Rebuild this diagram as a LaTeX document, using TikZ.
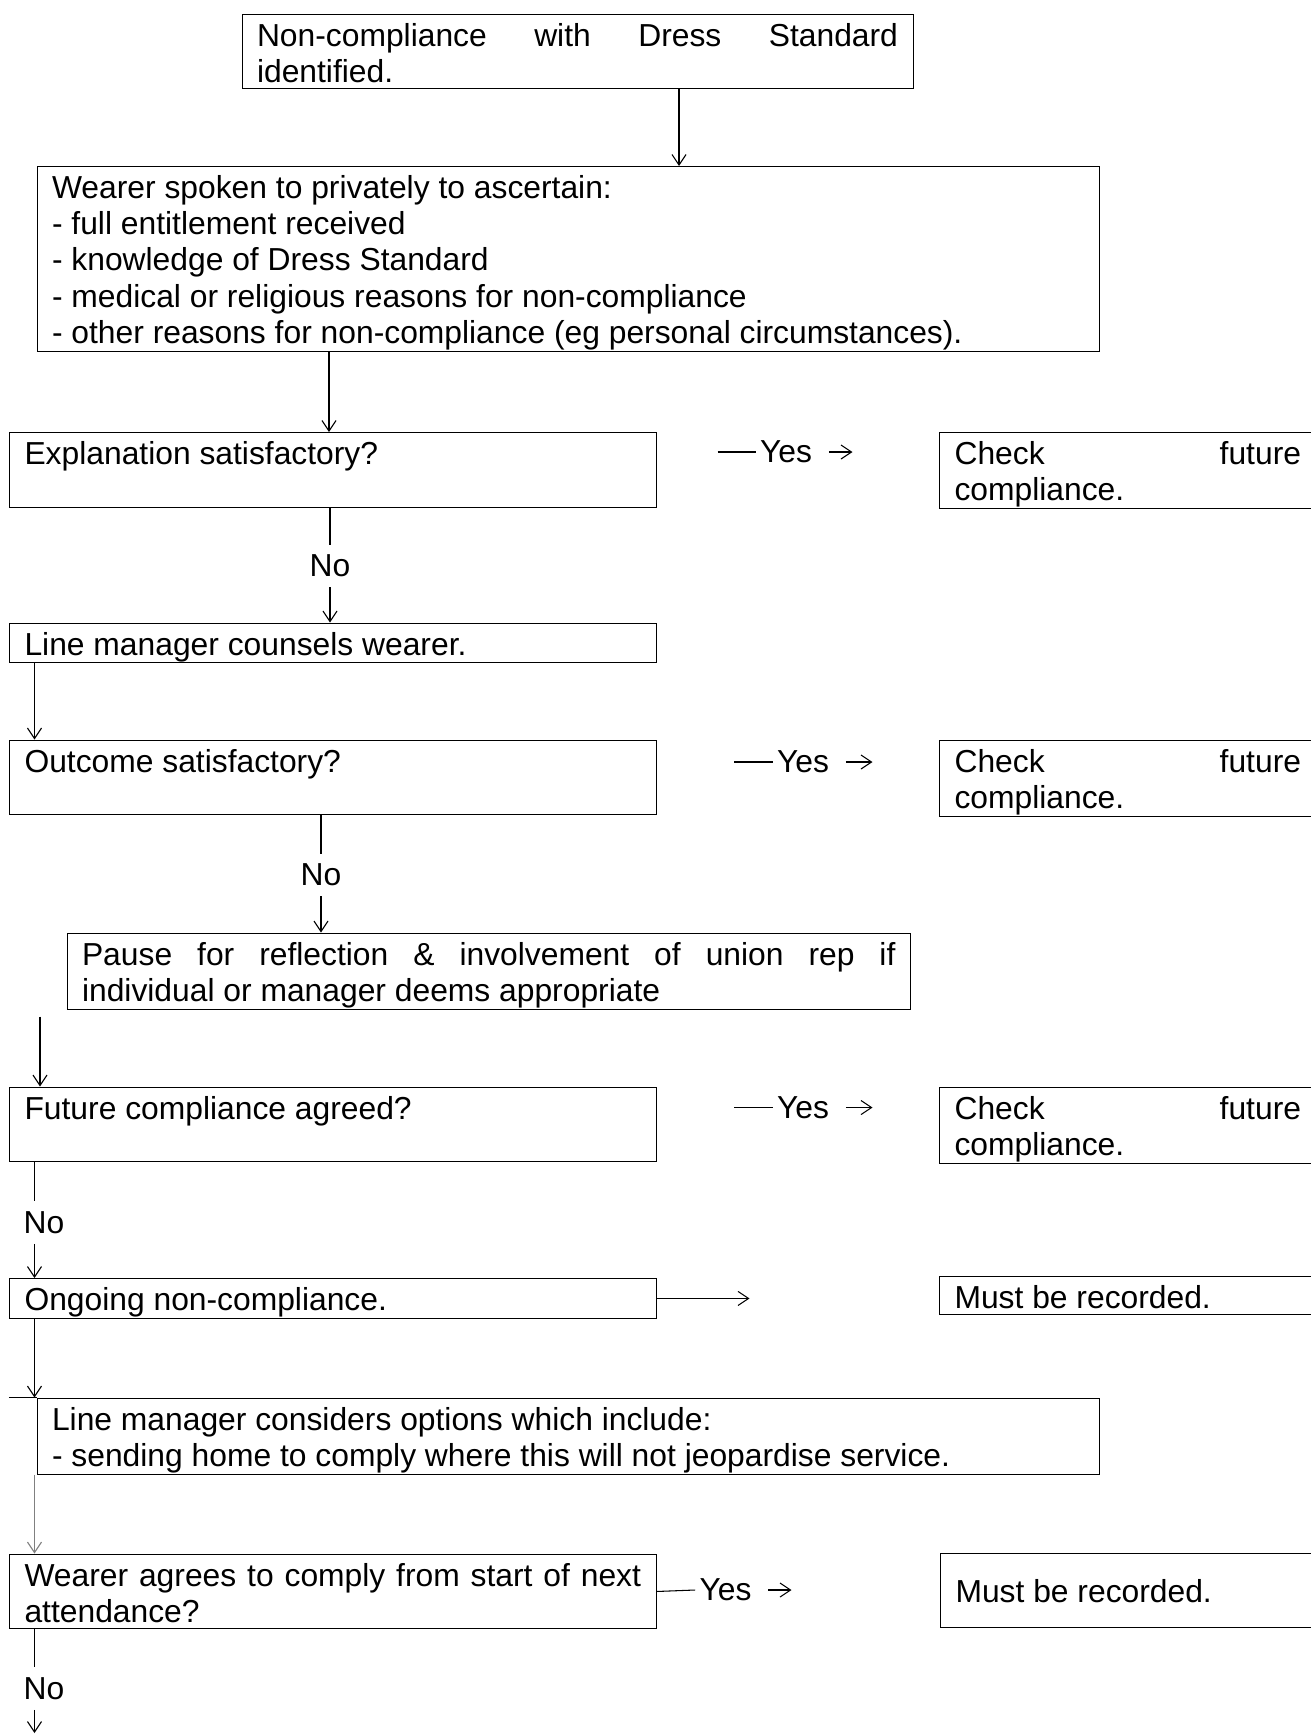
\documentclass[tikz,border=0pt]{standalone}
\usepackage{fontspec}
\setmainfont{Liberation Sans}
\usetikzlibrary{arrows.meta}
\hyphenpenalty=10000
\exhyphenpenalty=10000
\tolerance=10000
\hbadness=10000

\newcommand{\topstrut}{\rule{0pt}{0.85\baselineskip}}
\newcommand{\botstrut}{\rule[-0.15\baselineskip]{0pt}{0pt}}

\tikzset{
  stepbox/.style={draw, line width=0.6pt, anchor=north west, inner xsep=0.3cm,
    inner ysep=0.025cm, align=justify,
    execute at begin node=\topstrut, execute at end node=\botstrut},
  flowlabel/.style={inner xsep=0.08cm, inner ysep=0.2cm},
  flowline/.style={line width=0.6pt},
  flowarrow/.style={line width=0.6pt, -{Straight Barb[length=6pt,width=8pt]}},
}

\begin{document}
\begin{tikzpicture}[font=\fontsize{18.1pt}{20.6pt}\selectfont]
    \useasboundingbox (0,0) rectangle (26.22,-34.72);

    % main column
    \node[stepbox, text width=12.82cm] (ident) at (4.83,-0.27) {Non-compliance with Dress Standard\linebreak identified.};
    \node[stepbox, text width=20.64cm] (ascertain) at (0.73,-3.32) {Wearer spoken to privately to ascertain:\\- full entitlement received\\- knowledge of Dress Standard\\- medical or religious reasons for non-compliance\\- other reasons for non-compliance (eg personal circumstances).};
    \node[stepbox, text width=12.33cm] (explain) at (0.18,-8.64) {Explanation satisfactory?\\\mbox{}};
    \node[stepbox, text width=12.33cm] (counsel) at (0.18,-12.45) {Line manager counsels wearer.};
    \node[stepbox, text width=12.33cm] (outcome) at (0.18,-14.79) {Outcome satisfactory?\\\mbox{}};
    \node[stepbox, text width=16.27cm] (pause) at (1.33,-18.65) {Pause for reflection \& involvement of union rep if\linebreak individual or manager deems appropriate};
    \node[stepbox, text width=12.33cm] (agreed) at (0.18,-21.73) {Future compliance agreed?\\\mbox{}};
    \node[stepbox, text width=12.33cm] (ongoing) at (0.18,-25.56) {Ongoing non-compliance.};
    \node[stepbox, text width=20.64cm] (options) at (0.73,-27.95) {Line manager considers options which include:\\- sending home to comply where this will not jeopardise service.};
    \node[stepbox, text width=12.33cm] (comply) at (0.18,-31.07) {Wearer agrees to comply from start of next\linebreak attendance?};

    % right column
    \node[stepbox, text width=6.93cm] (check1) at (18.78,-8.64) {Check future\linebreak compliance.};
    \node[stepbox, text width=6.93cm] (check2) at (18.78,-14.79) {Check future\linebreak compliance.};
    \node[stepbox, text width=6.93cm] (check3) at (18.78,-21.73) {Check future\linebreak compliance.};
    \node[stepbox, text width=6.93cm] (record1) at (18.78,-25.51) {Must be recorded.};
    \node[stepbox, text width=6.93cm, minimum height=1.48cm] (record2) at (18.80,-31.05) {Must be recorded.};

    % labels
    \node[flowlabel] (no1) at (6.60,-11.32) {No};
    \node[flowlabel] (no2) at (6.42,-17.50) {No};
    \node[flowlabel] (no3) at (0.88,-24.45) {No};
    \node[flowlabel] (no4) at (0.88,-33.77) {No};
    \node[flowlabel] (yes1) at (15.72,-9.04) {Yes};
    \node[flowlabel] (yes2) at (16.06,-15.24) {Yes};
    \node[flowlabel] (yes3) at (16.06,-22.15) {Yes};
    \node[flowlabel] (yes4) at (14.51,-31.80) {Yes};
    \coordinate (gap) at (0.8,-20.33);
    \coordinate (last) at (0.69,-34.66);

    % connectors
    \draw[flowarrow] (13.58,0 |- ident.south) -- (13.58,0 |- ascertain.north);
    \draw[flowarrow] (6.58,0 |- ascertain.south) -- (6.58,0 |- explain.north);
    \draw[flowline] (no1.north |- explain.south) -- (no1.north);
    \draw[flowarrow] (no1.south) -- (no1.south |- counsel.north);
    \draw[flowarrow] (0.69,0 |- counsel.south) -- (0.69,0 |- outcome.north);
    \draw[flowline] (no2.north |- outcome.south) -- (no2.north);
    \draw[flowarrow] (no2.south) -- (no2.south |- pause.north);
    \draw[flowarrow] (gap) -- (gap |- agreed.north);
    \draw[flowline] (0.69,0 |- agreed.south) -- (0.69,0 |- no3.north);
    \draw[flowarrow] (0.69,0 |- no3.south) -- (0.69,0 |- ongoing.north);
    \draw[flowarrow] (0.69,0 |- ongoing.south) -- (0.69,0 |- options.north);
    \draw[flowline] (0.18,0 |- options.north) -- (options.north west);
    \draw[flowarrow, gray] (0.69,0 |- options.south) -- (0.69,0 |- comply.north);
    \draw[flowline] (0.69,0 |- comply.south) -- (0.69,0 |- no4.north);
    \draw[flowarrow] (0.69,0 |- no4.south) -- (last);

    \draw[flowline] (14.35,0 |- yes1.west) -- (yes1.west);
    \draw[flowarrow, shorten <=0.25cm] (yes1.east) -- (17.05,0 |- yes1.east);
    \draw[flowline] (14.68,0 |- yes2.west) -- (yes2.west);
    \draw[flowarrow, shorten <=0.25cm] (yes2.east) -- (17.45,0 |- yes2.east);
    \draw[flowline] (14.68,0 |- yes3.west) -- (yes3.west);
    \draw[flowarrow, shorten <=0.25cm] (yes3.east) -- (17.45,0 |- yes3.east);
    \draw[flowarrow] (ongoing.east) -- (14.99,0 |- ongoing.east);
    \draw[flowline] (comply.east) -- (yes4.west);
    \draw[flowarrow, shorten <=0.25cm] (yes4.east) -- (15.83,0 |- yes4.east);
\end{tikzpicture}
\end{document}
